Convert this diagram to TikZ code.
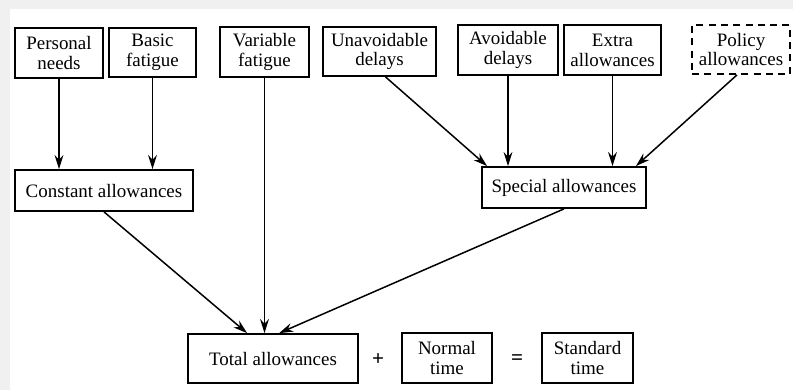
\documentclass[tikz,border=0pt]{standalone}
\usepackage{fontspec}
\setmainfont{Liberation Serif}
\usetikzlibrary{arrows.meta,calc}
\begin{document}
\begin{tikzpicture}[x=0.02cm,y=-0.02cm,
  box/.style={draw,line width=1pt,align=center,inner sep=0pt,
    font=\fontsize{10.8}{11.3}\selectfont},
  conn/.style={line width=0.85pt,-{Stealth[length=8pt,width=5pt]}},
  sym/.style={font=\fontsize{12}{12}\selectfont\bfseries}]
\fill[black!6] (0,0) rectangle (793,390);
\fill[white] (10,9) rectangle (793,390);
\useasboundingbox (0,0) rectangle (793,390);
% top row
\node[box,minimum width=88*0.02cm,minimum height=50*0.02cm] (pn) at (59,53) {Personal\\needs};
\node[box,minimum width=87*0.02cm,minimum height=49*0.02cm] (bf) at (152.5,52.5) {Basic\\fatigue};
\node[box,minimum width=89*0.02cm,minimum height=50*0.02cm] (vf) at (264.5,52) {Variable\\fatigue};
\node[box,minimum width=113*0.02cm,minimum height=49*0.02cm] (ud) at (379.5,51.5) {Unavoidable\\delays};
\node[box,minimum width=100*0.02cm,minimum height=50*0.02cm] (ad) at (508,50) {Avoidable\\delays};
\node[box,minimum width=97*0.02cm,minimum height=50*0.02cm] (ea) at (612.5,50) {Extra\\allowances};
\node[box,dash pattern=on 4pt off 3pt,minimum width=98*0.02cm,minimum height=49*0.02cm] (pa) at (741,49.5) {Policy\\allowances};
% middle row
\node[box,minimum width=178*0.02cm,minimum height=41*0.02cm] (ca) at (104,190.5) {Constant allowances};
\node[box,minimum width=164*0.02cm,minimum height=41*0.02cm] (sa) at (564,187.5) {Special allowances};
% bottom row
\node[box,minimum width=170*0.02cm,minimum height=49*0.02cm] (ta) at (273,358.5) {Total allowances};
\node[sym] (plus) at (378,360) {+};
\node[box,minimum width=90*0.02cm,minimum height=50*0.02cm] (nt) at (447,358) {Normal\\time};
\node[sym] (eq) at (517,360) {=};
\node[box,minimum width=91*0.02cm,minimum height=50*0.02cm] (st) at (587.5,358) {Standard\\time};
% connectors
\draw[conn] (pn.south) -- (pn.south |- ca.north);
\draw[conn] (bf.south) -- (bf.south |- ca.north);
\draw[conn] (vf.south) -- (vf.south |- ta.north);
\draw[conn] ($(ud.south)+(6,0)$) -- ($(sa.north west)+(6,0)$);
\draw[conn] (ad.south) -- (ad.south |- sa.north);
\draw[conn] (ea.south) -- (ea.south |- sa.north);
\draw[conn] ($(pa.south)+(-4,0)$) -- ($(sa.north east)+(-11,0)$);
\draw[conn] (ca.south) -- ($(ta.north west)+(60,0)$);
\draw[conn] (sa.south) -- ($(ta.north west)+(92,0)$);
\end{tikzpicture}
\end{document}
